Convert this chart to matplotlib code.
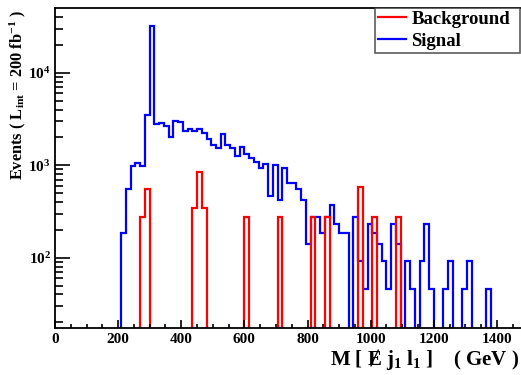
import numpy as np
import matplotlib
matplotlib.use('Agg')
import matplotlib.pyplot as plt
from matplotlib.lines import Line2D
from matplotlib.ticker import MultipleLocator, LogLocator, NullFormatter, FixedLocator

plt.rcParams['font.family'] = ['Liberation Serif', 'DejaVu Serif']
plt.rcParams['font.weight'] = 'bold'
plt.rcParams['mathtext.fontset'] = 'custom'
plt.rcParams['mathtext.rm'] = 'Liberation Serif:bold'
plt.rcParams['mathtext.it'] = 'Liberation Serif:bold'
plt.rcParams['mathtext.bf'] = 'Liberation Serif:bold'

# 100 bins of 15 GeV, 0 - 1500
edges = np.arange(0, 1515, 15)

# signal: lower bin edge -> events
sig_lo = [210, 225, 240, 255, 270, 285, 300, 315, 330, 345, 360, 375, 390, 405,
          420, 435, 450, 465, 480, 495, 510, 525, 540, 555, 570, 585, 600, 615,
          630, 645, 660, 675, 690, 705, 720, 735, 750, 765, 780, 795, 810, 825,
          840, 855, 870, 885, 900, 915, 945, 960, 975, 990, 1005, 1020, 1035,
          1050, 1065, 1080, 1110, 1125, 1155, 1170, 1185, 1230, 1245, 1290,
          1305, 1365]
sig_n = [186, 553, 980, 1065, 980, 3520, 31700, 2770, 2840, 2655, 2020, 3030,
         2910, 2360, 2480, 2360, 2440, 2250, 1905, 1650, 1520, 2160, 1650, 1520,
         1256, 1585, 1312, 1205, 1074, 925, 1023, 464, 1005, 421, 925, 647, 647,
         557, 421, 140, 275, 275, 186, 275, 368, 231, 186, 186, 275, 93, 46, 233,
         186, 140, 93, 46, 233, 140, 93, 46, 93, 233, 46, 46, 93, 46, 93, 46]

# background: lower bin edge -> events
bkg_lo = [270, 285, 435, 450, 465, 600, 705, 810, 855, 960, 1005, 1080]
bkg_n = [275, 548, 347, 850, 347, 275, 275, 275, 275, 577, 275, 275]

signal = np.zeros(len(edges) - 1)
signal[np.array(sig_lo) // 15] = sig_n
background = np.zeros(len(edges) - 1)
background[np.array(bkg_lo) // 15] = bkg_n

fig = plt.figure(figsize=(5.21, 3.75), dpi=100)
ax = fig.add_axes([55 / 521, 47.3 / 375, 473.5 / 521, 319.4 / 375])
ax.set_yscale('log', nonpositive='clip')

ax.stairs(signal, edges, color='blue', lw=1.6, baseline=1e-3)
ax.stairs(background, edges, color='red', lw=1.6, baseline=1e-3)

ax.set_xlim(0, 1500)
ax.set_ylim(17.5, 49700)

ax.xaxis.set_major_locator(MultipleLocator(200))
ax.xaxis.set_minor_locator(MultipleLocator(50))
ax.yaxis.set_major_locator(FixedLocator([100, 1000, 10000]))
ax.yaxis.set_minor_locator(LogLocator(base=10, subs=np.arange(2, 10)))
ax.yaxis.set_minor_formatter(NullFormatter())
ax.set_yticklabels([r'$10^{2}$', r'$10^{3}$', r'$10^{4}$'])
ax.set_xticklabels([str(int(v)) for v in ax.get_xticks()])

ax.tick_params(axis='both', which='both', direction='in', top=False, right=False,
               labelsize=11, width=1.2)
ax.tick_params(axis='x', which='major', length=6, pad=4)
ax.tick_params(axis='x', which='minor', length=3)
ax.tick_params(axis='y', which='major', length=11, pad=3)
ax.tick_params(axis='y', which='minor', length=6)
for s in ax.spines.values():
    s.set_linewidth(1.3)
ax.spines['right'].set_visible(False)

fig.text(17.5 / 521, 1 - 10 / 375,
         r'Events ( L$_{\mathrm{int}}$ = 200 fb$^{\mathrm{-1}}$ )',
         rotation=90, ha='center', va='top', fontsize=11.8, fontweight='bold')

fig.text(519 / 521, 10 / 375,
         r'M [ Ɇ j$_{\mathrm{1}}$ l$_{\mathrm{1}}$ ]    ( GeV )',
         ha='right', va='baseline', fontsize=15, fontweight='bold')

handles = [Line2D([], [], color='red', lw=1.6), Line2D([], [], color='blue', lw=1.6)]
leg = fig.legend(handles, ['Background', 'Signal'], loc='upper left',
                 bbox_to_anchor=(375 / 521, 1 - 53 / 375, 145 / 521, 45 / 375),
                 mode='expand', frameon=True, fancybox=False,
                 borderaxespad=0, handlelength=1.5, handletextpad=0.3,
                 borderpad=0.15, labelspacing=0.25,
                 prop={'size': 13.5, 'weight': 'bold'})
leg.get_frame().set_edgecolor('#333333')
leg.get_frame().set_linewidth(1.2)

fig.savefig('out.png', dpi=100)
